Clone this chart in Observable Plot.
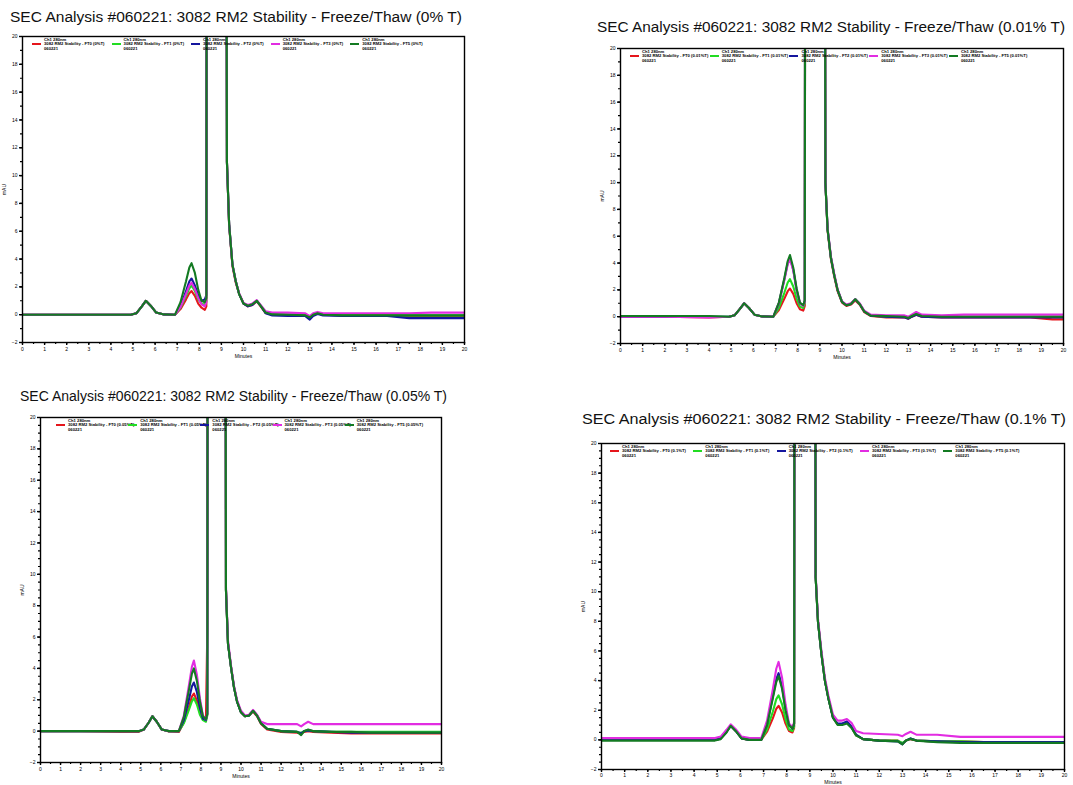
<!DOCTYPE html>
<html><head><meta charset="utf-8">
<script src="https://cdn.jsdelivr.net/npm/d3@7"></script>
<script src="https://cdn.jsdelivr.net/npm/@observablehq/plot@0.6"></script>
<style>
html,body{margin:0;padding:0;background:#fff;}
#root{position:relative;width:1073px;height:785px;overflow:hidden;font-family:"Liberation Sans",Arial,sans-serif;}
.plotbox{position:absolute;}
.leg{position:absolute;font-size:4.2px;font-weight:bold;line-height:4.6px;color:#000;white-space:nowrap;}
.legseg{position:absolute;height:2px;}
</style></head>
<body><div id="root"></div>
<script>
// ---------- data ----------
const minutes = [0, 2, 4, 4.9, 5.15, 5.4, 5.58, 5.8, 6.05, 6.4, 6.9, 7.15, 7.4, 7.55, 7.65, 7.8, 7.95, 8.1, 8.25, 8.32, 8.36, 9.18, 9.25, 9.35, 9.5, 9.65, 9.8, 10.0, 10.2, 10.4, 10.6, 10.8, 11.0, 11.3, 12.0, 12.8, 13.0, 13.15, 13.35, 13.6, 14.5, 15.5, 16.5, 17.5, 18.5, 19.5, 20];

const seriesNames = ["3082 RM2 Stability - FT0", "3082 RM2 Stability - FT1", "3082 RM2 Stability - FT2", "3082 RM2 Stability - FT3", "3082 RM2 Stability - FT5"];
const seriesColors = ["#e5161c", "#22dc22", "#15169e", "#e22ce2", "#137a22"];
const tweenLevels = ["0%T", "0.01%T", "0.05%T", "0.1%T"];
const panelTitles = [
  "SEC Analysis #060221: 3082 RM2 Stability - Freeze/Thaw (0% T)",
  "SEC Analysis #060221: 3082 RM2 Stability - Freeze/Thaw (0.01% T)",
  "SEC Analysis #060221: 3082 RM2 Stability - Freeze/Thaw (0.05% T)",
  "SEC Analysis #060221: 3082 RM2 Stability - Freeze/Thaw (0.1% T)"
];
const xTicks = [0,1,2,3,4,5,6,7,8,9,10,11,12,13,14,15,16,17,18,19,20];
const yTicks = [-2,0,2,4,6,8,10,12,14,16,18,20];

// Panel 1: 0% Tween
const ft0_red   = [0,0,0,0,0.1,0.6,1.0,0.65,0.15,0.02,0, 0.4,1.1,1.55,1.7,1.35,0.8,0.5,0.35, 0.6,80,80, 11,6.4,3.5,2.3,1.5,0.8,0.6,0.7,0.95,0.55,0.12,0, 0,-0.05,-0.2,0,0.1,0,-0.05,-0.05,-0.05,-0.1,-0.1,-0.1,-0.1];
const ft0_lime  = [0,0,0,0,0.1,0.6,1.0,0.65,0.15,0.02,0, 0.5,1.35,1.9,2.1,1.7,1.1,0.8,0.7, 1.0,80,80, 11,6.5,3.6,2.4,1.5,0.8,0.65,0.75,1.0,0.6,0.15,0.02, 0,0,-0.15,0,0.1,0,0,-0.05,-0.05,-0.05,-0.05,-0.05,-0.05];
const ft0_blue  = [0,0,0,0,0.1,0.6,1.0,0.65,0.15,0.02,0, 0.6,1.7,2.4,2.6,2.1,1.4,1.0,1.1, 1.4,80,80, 11,6.5,3.6,2.4,1.5,0.8,0.6,0.7,1.0,0.6,0.1,-0.05, -0.1,-0.1,-0.35,-0.1,0.05,-0.05,-0.1,-0.1,-0.1,-0.25,-0.25,-0.25,-0.25];
const ft0_mag   = [0,0,0,0,0.1,0.6,1.0,0.65,0.15,0.02,0, 0.55,1.5,2.1,2.3,1.85,1.2,0.75,0.6, 0.9,80,80, 11,6.5,3.6,2.4,1.55,0.85,0.7,0.8,1.05,0.65,0.25,0.15, 0.15,0.1,-0.1,0.1,0.2,0.1,0.1,0.1,0.1,0.1,0.15,0.15,0.15];
const ft0_green = [0,0,0,0,0.1,0.6,1.0,0.65,0.15,0.02,0, 0.9,2.4,3.4,3.7,3.0,1.8,1.0,0.9, 1.2,80,80, 11,6.5,3.6,2.4,1.5,0.8,0.65,0.75,1.0,0.6,0.15,0.02, 0,-0.05,-0.2,0,0.1,0,-0.05,-0.05,-0.05,-0.05,-0.05,-0.05,-0.05];

// Panel 2: 0.01% Tween
const ft001_red   = [0,0,-0.05,0,0.1,0.6,1.0,0.65,0.15,0.02,0, 0.5,1.35,1.9,2.1,1.7,1.0,0.55,0.45, 0.8,80,80, 10,6.4,4.3,3.0,1.9,1.05,0.8,0.9,1.2,0.9,0.35,0.05, -0.05,-0.05,-0.15,0,0.15,0,-0.05,-0.05,-0.05,-0.05,-0.05,-0.2,-0.2];
const ft001_lime  = [0.05,0.05,0,0,0.1,0.6,1.0,0.65,0.15,0.02,0, 0.65,1.8,2.55,2.8,2.25,1.35,0.75,0.65, 1.0,80,80, 10,6.5,4.4,3.1,2.0,1.1,0.85,0.95,1.3,0.95,0.4,0.08, 0,0,-0.1,0.05,0.2,0.05,0,0,0,0,0,0,0];
const ft001_blue  = [0,0,0,0,0.1,0.6,1.0,0.65,0.15,0.02,0, 1.0,2.8,4.0,4.4,3.5,2.0,1.0,0.85, 1.2,80,80, 10,6.5,4.4,3.1,2.0,1.1,0.85,0.95,1.3,0.95,0.4,0.08, 0,-0.05,-0.15,0,0.15,0,-0.05,-0.05,-0.05,-0.05,-0.05,-0.05,-0.05];
const ft001_mag   = [0,0,-0.05,0,0.1,0.6,1.0,0.65,0.15,0.02,0, 1.0,2.75,3.9,4.3,3.45,2.0,1.0,0.8, 1.1,80,80, 10,6.6,4.5,3.2,2.05,1.15,0.9,1.0,1.3,1.0,0.45,0.15, 0.1,0.1,0,0.15,0.35,0.15,0.1,0.15,0.15,0.15,0.15,0.15,0.15];
const ft001_green = [0.05,0.05,0.05,0,0.1,0.6,1.0,0.65,0.15,0.02,0, 1.05,2.9,4.15,4.6,3.65,2.1,1.05,0.85, 1.2,80,80, 10,6.5,4.4,3.1,2.0,1.1,0.85,0.95,1.3,0.95,0.4,0.08, 0.05,0,-0.1,0.05,0.2,0.05,0,0,0,0,0,0,0];

// Panel 3: 0.05% Tween
const ft005_red   = [0,0,-0.05,-0.05,0.1,0.55,0.95,0.6,0.1,-0.02,-0.05, 0.55,1.5,2.2,2.4,1.95,1.2,0.75,0.65, 6.4,80,80, 9,5.6,4.1,2.8,1.9,1.2,0.95,1.0,1.25,0.95,0.45,0.1, -0.05,-0.1,-0.15,-0.05,0,-0.05,-0.1,-0.15,-0.15,-0.15,-0.15,-0.15,-0.15];
const ft005_lime  = [0,0,0,0,0.1,0.55,0.95,0.6,0.1,0,0, 0.5,1.35,1.9,2.1,1.7,1.05,0.7,0.6, 1.0,80,80, 9,5.6,4.1,2.8,1.9,1.2,0.95,1.0,1.3,1.0,0.5,0.15, 0,-0.05,-0.1,0,0.05,0,-0.05,-0.05,-0.05,-0.05,-0.05,-0.05,-0.05];
const ft005_blue  = [0,0,0,0,0.1,0.55,0.95,0.6,0.1,0,0, 0.7,2.0,2.85,3.1,2.5,1.5,0.8,0.7, 1.1,80,80, 9,5.6,4.1,2.8,1.9,1.2,0.95,1.0,1.3,1.0,0.5,0.15, 0,-0.05,-0.15,0,0.05,0,-0.05,-0.1,-0.1,-0.1,-0.1,-0.1,-0.1];
const ft005_mag   = [0,0,0,0,0.1,0.55,0.95,0.6,0.1,0,0, 1.0,2.9,4.1,4.5,3.6,2.1,1.0,0.75, 1.1,80,80, 9.2,5.8,4.2,2.9,2.0,1.3,1.0,1.05,1.35,1.05,0.6,0.45, 0.45,0.45,0.3,0.45,0.6,0.45,0.45,0.45,0.45,0.45,0.45,0.45,0.45];
const ft005_green = [0,0,0,0,0.1,0.55,0.95,0.6,0.1,0,0, 0.9,2.6,3.65,4.0,3.2,1.9,0.95,0.75, 1.1,80,80, 9,5.6,4.1,2.8,1.9,1.2,0.95,1.0,1.3,1.0,0.5,0.15, 0,-0.05,-0.25,0,0.1,0,-0.05,-0.05,-0.1,-0.1,-0.1,-0.1,-0.1];

// Panel 4: 0.1% Tween
const ft01_red   = [0,0,0,0,0.1,0.55,0.95,0.6,0.1,0,0, 0.55,1.45,2.1,2.3,1.85,1.1,0.6,0.5, 0.8,80,80, 11,8.0,5.8,4.0,2.8,1.5,1.05,1.05,1.2,0.85,0.3,0.05, -0.05,-0.05,-0.25,-0.05,0.05,-0.05,-0.1,-0.1,-0.15,-0.15,-0.15,-0.15,-0.15];
const ft01_lime  = [0,0,0,0,0.1,0.55,0.95,0.6,0.1,0,0, 0.7,1.9,2.75,3.0,2.4,1.4,0.7,0.6, 0.9,80,80, 11,8.0,5.8,4.0,2.8,1.5,1.05,1.05,1.2,0.85,0.3,0.05, -0.05,-0.05,-0.2,-0.05,0.1,-0.05,-0.1,-0.1,-0.15,-0.15,-0.15,-0.15,-0.15];
const ft01_blue  = [0,0,0,0,0.1,0.55,0.95,0.6,0.1,0,0, 1.05,2.9,4.1,4.5,3.6,2.1,1.0,0.75, 1.1,80,80, 11,8.0,5.8,4.0,2.8,1.5,1.1,1.1,1.25,0.9,0.35,0.05, -0.05,-0.1,-0.3,-0.05,0.1,-0.05,-0.1,-0.15,-0.15,-0.15,-0.15,-0.15,-0.15];
const ft01_mag   = [0.12,0.12,0.12,0.12,0.22,0.68,1.05,0.72,0.22,0.12,0.12, 1.3,3.4,4.8,5.26,4.2,2.4,1.1,0.85, 1.2,80,80, 11.2,8.2,6.0,4.2,3.0,1.7,1.3,1.3,1.4,1.15,0.6,0.45, 0.4,0.35,0.25,0.4,0.55,0.35,0.35,0.2,0.2,0.2,0.2,0.2,0.2];
const ft01_green = [-0.05,-0.05,-0.05,-0.05,0.05,0.5,0.95,0.6,0.1,0,0, 1.0,2.8,3.9,4.3,3.45,2.0,1.0,0.75, 1.1,80,80, 11,8.0,5.8,4.0,2.8,1.5,1.0,1.0,1.1,0.8,0.3,0.05, -0.05,-0.1,-0.3,-0.05,0.05,-0.05,-0.15,-0.2,-0.2,-0.2,-0.2,-0.2,-0.2];

const panelSeries = [
  [ft0_red, ft0_lime, ft0_blue, ft0_mag, ft0_green],
  [ft001_red, ft001_lime, ft001_blue, ft001_mag, ft001_green],
  [ft005_red, ft005_lime, ft005_blue, ft005_mag, ft005_green],
  [ft01_red, ft01_lime, ft01_blue, ft01_mag, ft01_green]
];

// ---------- layout ----------
const layout = [
  {frame:[22, 36, 464, 342],  title:[10, 22, 452],  legOff:10, yMinor:1,   xLab:15, tpad:2},
  {frame:[620, 48, 1063, 343], title:[597, 32, 468], legOff:10, yMinor:1,   xLab:15, tpad:2},
  {frame:[40, 417, 441, 762],  title:[20, 401, 427], legOff:16, yMinor:0.5, xLab:15, tpad:2},
  {frame:[601, 443, 1064, 769], title:[582, 424, 484], legOff:9, yMinor:0.5, xLab:14, tpad:1}
];

const root = document.getElementById("root");
const mL = 26, mT = 1, mR = 2, mB = 26;
const xMinor = d3.range(0, 20.01, 0.5);

layout.forEach((L, p) => {
  const [fl, ft, fr, fb] = L.frame;
  const W = fr - fl, H = fb - ft;
  const yMinor = d3.range(-2, 20.01, L.yMinor);
  const lines = panelSeries[p].map((vals, s) => {
    const rows = minutes.map((m, i) => ({minute: m, mAU: vals[i]}));
    return Plot.line(rows, {x: "minute", y: "mAU", stroke: seriesColors[s], strokeWidth: 2.1, clip: true, strokeLinejoin: "round"});
  });
  const svg = Plot.plot({
    width: W + mL + mR, height: H + mT + mB,
    marginLeft: mL, marginTop: mT, marginRight: mR, marginBottom: mB,
    style: {background: "transparent", fontFamily: "Liberation Sans, Arial, sans-serif", color: "#000", overflow: "visible"},
    x: {domain: [0, 20], label: null},
    y: {domain: [-2, 20], label: null},
    marks: [
      ...lines,
      Plot.axisX({ticks: xMinor, tickFormat: () => "", tickSize: 2, label: null, strokeWidth: 1.2}),
      Plot.axisX({ticks: xTicks, tickSize: 3, tickPadding: L.tpad, fontSize: 5, strokeWidth: 1.4, label: "Minutes", labelAnchor: "center", labelArrow: false, labelOffset: L.xLab}),
      Plot.axisY({ticks: yMinor, tickFormat: () => "", tickSize: 2, label: null, strokeWidth: 1.2}),
      Plot.axisY({ticks: yTicks, tickSize: 3, tickPadding: 2, fontSize: 5, strokeWidth: 1.4, label: "mAU", labelAnchor: "center", labelArrow: false, labelOffset: 20}),
      Plot.frame({stroke: "#000", strokeWidth: 1.4})
    ]
  });
  const box = document.createElement("div");
  box.className = "plotbox";
  box.style.left = (fl - mL) + "px";
  box.style.top = (ft - mT) + "px";
  box.appendChild(svg);
  root.appendChild(box);

  // legend (inside the frame, along the top)
  const spacing = W * 0.18;
  seriesNames.forEach((name, s) => {
    const lx = fl + L.legOff + s * spacing;
    const seg = document.createElement("div");
    seg.className = "legseg";
    seg.style.left = lx + "px";
    seg.style.top = (ft + 6.5) + "px";
    seg.style.width = "9px";
    seg.style.background = seriesColors[s];
    root.appendChild(seg);
    const t = document.createElement("div");
    t.className = "leg";
    t.style.left = (lx + 12) + "px";
    t.style.top = (ft + 1.5) + "px";
    t.innerHTML = "Ch1 280nm<br>" + name + " (" + tweenLevels[p] + ")<br>060221";
    root.appendChild(t);
  });
});

// titles
const ns = "http://www.w3.org/2000/svg";
const tsvg = document.createElementNS(ns, "svg");
tsvg.setAttribute("width", 1073); tsvg.setAttribute("height", 785);
tsvg.style.position = "absolute"; tsvg.style.left = "0"; tsvg.style.top = "0"; tsvg.style.pointerEvents = "none";
layout.forEach((L, p) => {
  const [tx, ty, tw] = L.title;
  const t = document.createElementNS(ns, "text");
  t.setAttribute("x", tx); t.setAttribute("y", ty);
  t.setAttribute("textLength", tw);
  t.setAttribute("lengthAdjust", "spacingAndGlyphs");
  t.setAttribute("font-family", "Liberation Sans, Arial, sans-serif");
  t.setAttribute("font-size", "15.5");
  t.setAttribute("fill", "#111");
  t.textContent = panelTitles[p];
  tsvg.appendChild(t);
});
root.appendChild(tsvg);
</script>
</body></html>
